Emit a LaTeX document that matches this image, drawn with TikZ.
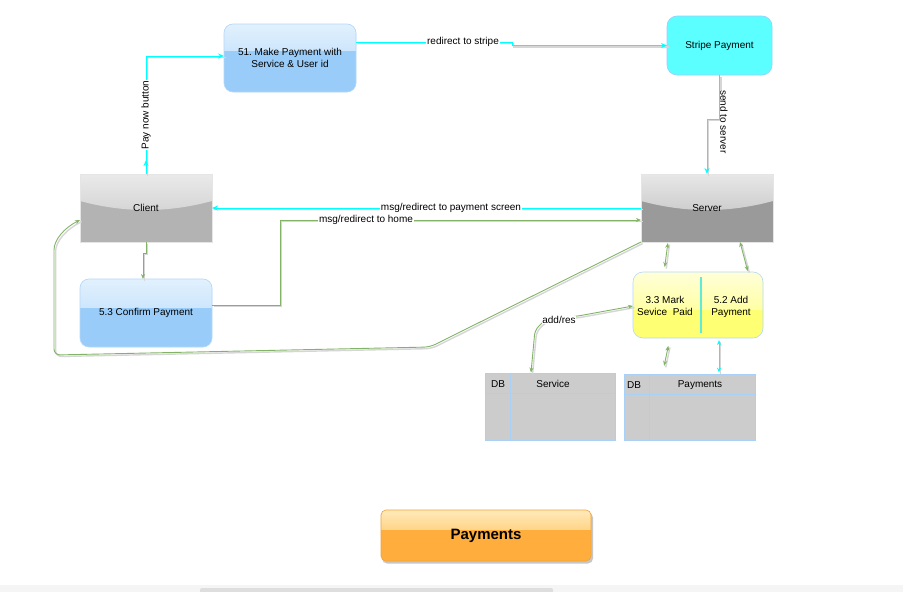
\documentclass[tikz,border=0pt]{standalone}
\usepackage{fontspec}
\setmainfont{Liberation Sans}
\frenchspacing
\usetikzlibrary{arrows.meta,decorations.markings}
\pgfdeclarelayer{bg}
\pgfsetlayers{bg,main}
\definecolor{cy}{HTML}{00FFFF}
\definecolor{gr}{HTML}{82B366}
\definecolor{tblborder}{HTML}{A9D1F7}
\definecolor{tblfill}{HTML}{CCCCCC}
\definecolor{divcol}{HTML}{5EEBD8}
\definecolor{blueA}{HTML}{EBF5FE}
\definecolor{blueB}{HTML}{C4E2FC}
\definecolor{blueC}{HTML}{99CCF9}
\definecolor{blueD}{HTML}{B5D8FA}
\definecolor{stripeF}{HTML}{5CFFFF}
\definecolor{stripeD}{HTML}{99CCFF}
\definecolor{grayA}{HTML}{F5F5F5}
\definecolor{grayB}{HTML}{C9C9C9}
\definecolor{grayC}{HTML}{B3B3B3}
\definecolor{grayD}{HTML}{BEBEBE}
\definecolor{grayE}{HTML}{9A9A9A}
\definecolor{yelA}{HTML}{FFFFF2}
\definecolor{yelB}{HTML}{FFFF8C}
\definecolor{yelC}{HTML}{FFFF73}
\definecolor{orA}{HTML}{FFF2D2}
\definecolor{orB}{HTML}{FFCC70}
\definecolor{orC}{HTML}{FFAD3C}
\definecolor{orD}{HTML}{F2A23A}
\pgfdeclareverticalshading{shBlue}{100bp}{color(0bp)=(blueB); color(100bp)=(blueA)}
\pgfdeclareverticalshading{shClient}{100bp}{color(0bp)=(grayB); color(100bp)=(grayA)}
\pgfdeclareverticalshading{shServer}{100bp}{color(0bp)=(grayD); color(100bp)=(grayA)}
\pgfdeclareverticalshading{shYel}{100bp}{color(0bp)=(yelB); color(100bp)=(yelA)}
\pgfdeclareverticalshading{shOr}{100bp}{color(0bp)=(orB); color(100bp)=(orA)}
% glossy background: node, radius, fill, shading, band shift
\newcommand\glossbg[5]{%
  \begin{pgfonlayer}{bg}
  \fill[#3,rounded corners=#2] (#1.north west) rectangle (#1.south east);
  \begin{scope}
  \clip[rounded corners=#2] (#1.north west) rectangle (#1.south east);
  \shade[shading=#4] (#1.north west) rectangle ([yshift=#5]#1.east);
  \end{scope}
  \end{pgfonlayer}}
% curved band background: node, fill, shading
\newcommand\curvybg[3]{%
  \begin{pgfonlayer}{bg}
  \fill[#2] (#1.north west) rectangle (#1.south east);
  \shade[shading=#3] (#1.north west) -- (#1.north east) -- ([yshift=7pt]#1.east) .. controls ([xshift=-44pt,yshift=-5pt]#1.east) and ([xshift=44pt,yshift=-5pt]#1.west) .. ([yshift=7pt]#1.west) -- cycle;
  \end{pgfonlayer}}
\tikzset{
  txt/.style={font=\fontsize{10}{12}\selectfont},
  sh/.style={preaction={draw=black!16,line width=1.4pt,arrows=-,transform canvas={shift={(1.6,1.6)}}}},
  cline/.style={sh,draw=cy,line width=1pt,-{Stealth[length=6pt,width=5pt]}},
  gline/.style={sh,draw=gr,line width=0.9pt,-{Stealth[length=5pt,width=4pt]}},
  gdbl/.style={sh,draw=gr,line width=0.9pt,{Stealth[length=5pt,width=4pt]}-{Stealth[length=5pt,width=4pt]}},
  cdbl/.style={sh,draw=cy,line width=1pt,{Stealth[length=5pt,width=4pt]}-{Stealth[length=5pt,width=4pt]}},
  lbl/.style={txt,fill=white,inner sep=0.8pt},
  box/.style={txt,align=center,line width=0.6pt,outer sep=0pt},
  tbl/.style={draw=tblborder,line width=0.8pt,fill=tblfill,inner sep=0pt},
}
\begin{document}
\begin{tikzpicture}[x=1pt,y=-1pt]
\useasboundingbox (0,0) rectangle (903,592);
\begin{pgfonlayer}{bg}
\fill[white] (0,0) rectangle (903,592);
\end{pgfonlayer}
% scrollbar strip
\fill[black!4] (0,585) rectangle (903,592);
\fill[black!13,rounded corners=2pt] (200,588) rectangle (553,596);

% nodes
\node[box,draw=blueD,rounded corners=9pt,minimum width=132pt,minimum height=68pt] (mk) at (290,58) {51. Make Payment with\\Service \& User id};
\glossbg{mk}{9pt}{blueC}{shBlue}{8pt}
\node[box,draw=stripeD,fill=stripeF,rounded corners=10pt,minimum width=105pt,minimum height=59pt] (st) at (719.5,45.5) {Stripe Payment};
\node[box,draw=black!10,minimum width=132pt,minimum height=68pt] (cl) at (146,208) {Client};
\curvybg{cl}{grayC}{shClient}
\node[box,draw=black!10,minimum width=132pt,minimum height=68pt] (sv) at (707,208) {Server};
\curvybg{sv}{grayE}{shServer}
\node[box,draw=blueD,rounded corners=9pt,minimum width=132pt,minimum height=68pt] (cf) at (146,313) {5.3 Confirm Payment};
\glossbg{cf}{9pt}{blueC}{shBlue}{6pt}
\node[box,draw=blueD,rounded corners=10pt,minimum width=130pt,minimum height=66pt] (yb) at (698,305) {};
\glossbg{yb}{10pt}{yelC}{shYel}{-4pt}
\draw[divcol,line width=1.5pt] ([xshift=3pt,yshift=-5pt]yb.north) -- ([xshift=3pt,yshift=5pt]yb.south);
\node[txt,align=center] (ybl) at (665,306) {3.3 Mark\\Sevice\ \ Paid};
\node[txt,align=center] (ybr) at (731,307) {5.2 Add\\Payment};

\node[tbl,minimum width=130pt,minimum height=67pt] (dbs) at (550,406.5) {};
\draw[tblborder,line width=0.8pt] (485,393) -- (615,393) (510,373) -- (510,440);
\node[txt] (dbs1) at (498,384) {DB};
\node[txt] (dbs2) at (553,384) {Service};

\node[tbl,minimum width=131pt,minimum height=66pt] (dbp) at (689.5,407) {};
\draw[tblborder,line width=0.8pt] (624,394) -- (755,394) (649,374) -- (649,440);
\node[txt] (dbp1) at (634,385) {DB};
\node[txt] (dbp2) at (700,385) {Payments};

\node[box,draw=orD,rounded corners=5pt,minimum width=210pt,minimum height=51pt,font=\fontsize{15}{18}\selectfont\bfseries] (pay) at (486,535.5) {Payments};
\begin{pgfonlayer}{bg}
\fill[black!22,rounded corners=5pt] ([xshift=1pt,yshift=-2.5pt]pay.north west) rectangle ([xshift=2pt,yshift=-2.5pt]pay.south east);
\end{pgfonlayer}
\glossbg{pay}{5pt}{orC}{shOr}{6pt}

% connectors
\draw[cline,postaction={decorate,decoration={markings,mark=at position 14pt with {\arrow[cy]{Stealth[length=6pt,width=5pt]}}}}] (cl.north) |- ([yshift=2pt]mk.west);
\node[lbl,rotate=90] (l0) at (146,115) {Pay now button};
\draw[cline] ([yshift=16pt]mk.east) -- (512,42) -- (512,45.5) -- (st.west);
\node[lbl] (l1) at (463,42) {redirect to stripe};
\draw[cline] (st.south) -- (719.5,119) -- (707,119) -- (sv.north);
\node[lbl,rotate=-90] (l2) at (724,122) {send to server};
\draw[cline] (sv.west) -- (cl.east);
\node[lbl] (l5) at (451,208) {msg/redirect to payment screen};
\draw[gline] ([yshift=8pt]cf.east) -- (280,305) |- ([yshift=-12pt]sv.west);
\node[lbl] (l3) at (366,220) {msg/redirect to home};
\draw[gline] (cl.south) -- ++(0,11) -- ++(-3,0) -- ([xshift=-3pt]cf.north);
\draw[gline,rounded corners=6pt] (sv.south west) -- (430,347) -- (54,355) -- (54,256) .. controls (54,240) and (64,228) .. ([yshift=-12pt]cl.west);
\draw[gdbl,shorten <=1pt,shorten >=5pt] ([xshift=-39pt]sv.south) -- ([xshift=-34pt]yb.north);
\draw[gdbl,shorten >=1pt] ([xshift=33pt]sv.south) -- ([xshift=50pt]yb.north);
\draw[gdbl,rounded corners=5pt] ([yshift=-1pt]yb.west) -- (578,316) -- (545,320) -- (535,330) -- ([xshift=-19pt]dbs.north);
\node[lbl] (l4) at (559,320) {add/res};
\draw[gdbl,shorten <=8pt,shorten >=8pt] ([xshift=-28pt]yb.south) -- ([xshift=-27pt]dbp.north);
\draw[cdbl,shorten <=2pt,shorten >=1pt] ([xshift=21pt]yb.south) -- ([xshift=29.5pt]dbp.north);
\end{tikzpicture}
\end{document}
